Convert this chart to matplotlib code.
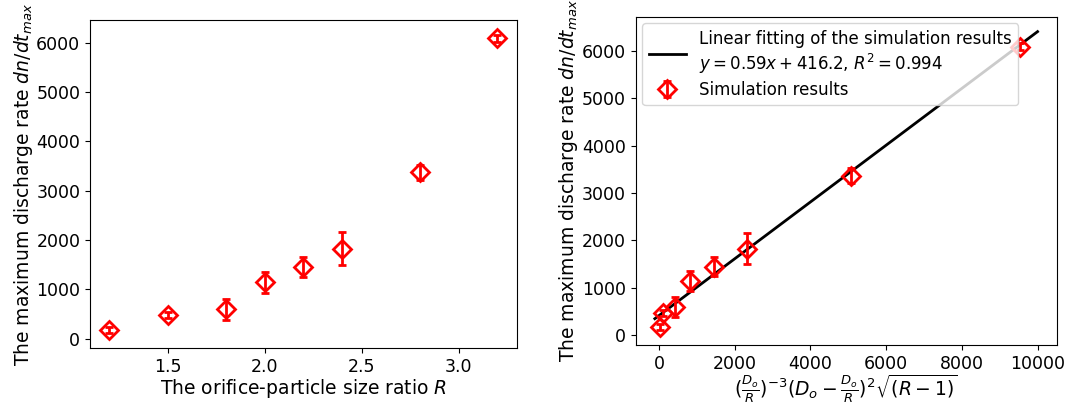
import numpy as np
import matplotlib
matplotlib.use("Agg")
import matplotlib.pyplot as plt

# orifice-particle size ratio
R = [1.2, 1.5, 1.8, 2.0, 2.2, 2.4, 2.8, 3.2]
# maximum discharge rate and its spread
rate = [170, 475, 595, 1140, 1445, 1825, 3370, 6090]
rate_err = [60, 60, 210, 210, 200, 330, 150, 70]
# combined parameter (x of right panel)
xparam = [15, 100, 430, 820, 1440, 2330, 5080, 9540]

# linear fit
slope = 0.599
intercept = 416.2
fit_x = [-110, 10000]

lab_fs = 13.5
tick_fs = 12.5

fig = plt.figure(figsize=(10.69, 4.05), dpi=100)
ax1 = fig.add_axes([90 / 1069, 1 - 348 / 405, (516.7 - 90) / 1069, (348 - 20) / 405])
ax2 = fig.add_axes([635.7 / 1069, 1 - 345 / 405, (1056.7 - 635.7) / 1069, (345 - 16.7) / 405])

ekw = dict(fmt='D', color='red', mfc='none', mec='red', ms=9, mew=2,
           elinewidth=2, capsize=3, capthick=2)

ax1.errorbar(R, rate, yerr=rate_err, **ekw)
ax1.set_xlabel('The orifice-particle size ratio $R$', fontsize=lab_fs, labelpad=1)
ax1.set_ylabel('The maximum discharge rate $dn/dt_{max}$', fontsize=lab_fs, labelpad=1)
ax1.tick_params(labelsize=tick_fs)

fx = np.array(fit_x)
ax2.plot(fx, slope * fx + intercept, color='black', lw=2,
         label='Linear fitting of the simulation results\n$y=0.59x+416.2$, $R^2=0.994$')
ax2.errorbar(xparam, rate, yerr=rate_err, label='Simulation results', **ekw)
ax2.set_xlabel(r'$(\frac{D_o}{R})^{-3}(D_o-\frac{D_o}{R})^2\sqrt{(R-1)}$', fontsize=lab_fs, labelpad=0)
ax2.set_ylabel('The maximum discharge rate $dn/dt_{max}$', fontsize=lab_fs, labelpad=1)
ax2.set_xticks([0, 2000, 4000, 6000, 8000, 10000])
ax2.tick_params(labelsize=tick_fs)
ax2.legend(loc='upper left', fontsize=12, handlelength=2.2, labelspacing=0.3,
           borderaxespad=0.4)

fig.savefig('out.png', dpi=100)
